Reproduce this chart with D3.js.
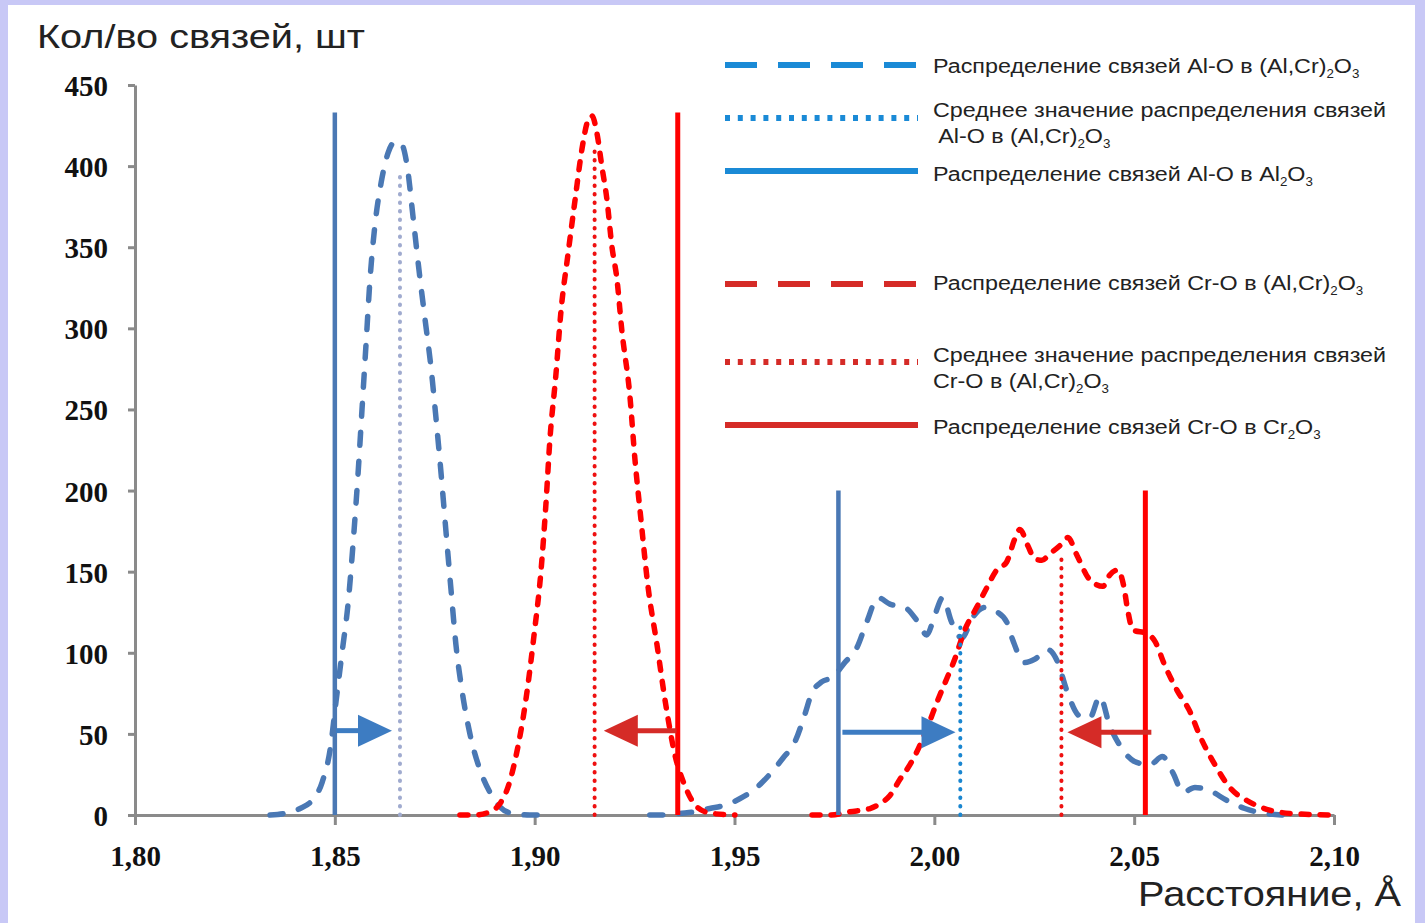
<!DOCTYPE html>
<html>
<head>
  <meta charset="UTF-8">
  <style>
    body { margin: 0; background: #c8c8f6; }
    svg { display: block; }
    .tick text { font-family: "Liberation Serif", "Times New Roman", serif; font-weight: bold; font-size: 29px; fill: #111; }
    .lbl { font-family: "Liberation Sans", Arial, sans-serif; fill: #222; }
  </style>
</head>
<body>
<svg></svg>
<script src="https://d3js.org/d3.v7.min.js"></script>
<script>
// --- data ---
// Al-O bond distribution in (Al,Cr)2O3: [distance, count], null = gap
let alOMixed = [
  [1.8338, 0], [1.8375, 1], [1.8413, 4], [1.8443, 9], [1.8468, 20], [1.8488, 40], [1.8503, 70],
  [1.8518, 100], [1.8533, 130], [1.8548, 175], [1.8558, 210], [1.8568, 250], [1.8578, 290],
  [1.8588, 330], [1.8601, 365], [1.8616, 390], [1.8633, 408], [1.8651, 415], [1.8666, 414],
  [1.8681, 400], [1.8696, 368], [1.8711, 335], [1.8726, 305], [1.8741, 275], [1.8753, 245],
  [1.8766, 210], [1.8778, 175], [1.8791, 138], [1.8803, 105], [1.8818, 77], [1.8838, 50],
  [1.8863, 28], [1.8888, 14], [1.8913, 5], [1.8943, 1], [1.8988, 0], [1.9026, 0],
  [1.9150, null],
  [1.9288, 0], [1.9326, 0], [1.9363, 1], [1.9401, 2], [1.9438, 4], [1.9476, 6], [1.9513, 10],
  [1.9551, 16], [1.9588, 25], [1.9621, 35], [1.9651, 45], [1.9676, 62], [1.9693, 75],
  [1.9718, 82], [1.9746, 85], [1.9776, 94], [1.9806, 103], [1.9831, 119], [1.9859, 134],
  [1.9889, 130], [1.9926, 128], [1.9959, 119], [1.9981, 111], [2.0001, 123], [2.0021, 134],
  [2.0043, 119], [2.0069, 109], [2.0094, 121], [2.0126, 128], [2.0151, 126], [2.0181, 119],
  [2.0196, 108], [2.0226, 94], [2.0251, 96], [2.0284, 102], [2.0309, 94], [2.0331, 77],
  [2.0364, 61], [2.0389, 60], [2.0414, 73], [2.0439, 55], [2.0464, 43], [2.0501, 33],
  [2.0539, 31], [2.0571, 36], [2.0597, 26], [2.0622, 14], [2.0652, 17], [2.0689, 15],
  [2.0732, 9], [2.0777, 4], [2.0827, 1], [2.0877, 0]
];

// Cr-O bond distribution in (Al,Cr)2O3
let crOMixed = [
  [1.8813, 0], [1.8851, 0], [1.8888, 2], [1.8913, 7], [1.8933, 17], [1.8953, 36], [1.8978, 71],
  [1.8998, 110], [1.9016, 151], [1.9028, 191], [1.9038, 231], [1.9053, 271], [1.9066, 311],
  [1.9083, 345], [1.9101, 379], [1.9118, 410], [1.9133, 428], [1.9143, 431], [1.9156, 420],
  [1.9168, 400], [1.9181, 379], [1.9193, 351], [1.9206, 330], [1.9218, 299], [1.9238, 259],
  [1.9251, 219], [1.9266, 182], [1.9283, 142], [1.9306, 105], [1.9328, 68], [1.9351, 37],
  [1.9376, 18], [1.9406, 5], [1.9443, 1], [1.9501, 0],
  [1.9600, null],
  [1.9694, 0], [1.9739, 0], [1.9789, 2], [1.9839, 4], [1.9864, 7], [1.9889, 12], [1.9914, 22],
  [1.9939, 31], [1.9964, 43], [1.9984, 55], [2.0009, 71], [2.0031, 84], [2.0051, 96],
  [2.0076, 114], [2.0106, 128], [2.0131, 140], [2.0156, 151], [2.0181, 156], [2.0201, 170],
  [2.0214, 176], [2.0234, 166], [2.0251, 158], [2.0269, 157], [2.0289, 161], [2.0314, 166],
  [2.0334, 171], [2.0357, 160], [2.0389, 145], [2.0422, 141], [2.0439, 148], [2.0459, 151],
  [2.0474, 141], [2.0484, 126], [2.0497, 114], [2.0532, 112], [2.0552, 107], [2.0577, 92],
  [2.0607, 77], [2.0639, 64], [2.0664, 49], [2.0702, 31], [2.0739, 17], [2.0789, 8],
  [2.0839, 3], [2.0889, 1], [2.0997, 0]
];

// vertical marker lines: [distance, height]
let alOPure = [[1.8500, 433], [1.9760, 200]];      // Al-O in Al2O3
let alOMean = [[1.8663, 398], [2.0065, 118]];      // mean Al-O in (Al,Cr)2O3
let crOMean = [[1.9150, 410], [2.0318, 160]];      // mean Cr-O in (Al,Cr)2O3
let crOPure = [[1.9358, 433], [2.0528, 200]];      // Cr-O in Cr2O3

// shift arrows: [from, to, level]
let arrowsAl = [[1.8503, 1.8643, 52], [1.9770, 2.0053, 51]];
let arrowsCr = [[1.9355, 1.9173, 52], [2.0543, 2.0333, 51]];

let xTicks = [1.80, 1.85, 1.90, 1.95, 2.00, 2.05, 2.10];
let yTicks = [0, 50, 100, 150, 200, 250, 300, 350, 400, 450];

let legendLabels = [
  ["Распределение связей Al-O в (Al,Cr)_2O_3"],
  ["Среднее значение распределения связей", " Al-O в (Al,Cr)_2O_3"],
  ["Распределение связей Al-O в Al_2O_3"],
  ["Распределение связей Cr-O в (Al,Cr)_2O_3"],
  ["Среднее значение распределения связей", "Cr-O в (Al,Cr)_2O_3"],
  ["Распределение связей Cr-O в Cr_2O_3"]
];

// --- drawing ---
let width = 1425, height = 923;
let svg = d3.select("svg").attr("width", width).attr("height", height);

svg.append("rect").attr("x", 8).attr("y", 5).attr("width", 1407).attr("height", 918).attr("fill", "white");

let x = d3.scaleLinear().domain([1.80, 2.10]).range([135, 1334]);
let y = d3.scaleLinear().domain([0, 450]).range([815, 85]);

let axisColor = "#8a8a8a";

let gy = svg.append("g").attr("transform", "translate(135,0)")
  .call(d3.axisLeft(y).tickValues(yTicks).tickSize(7).tickSizeOuter(0).tickPadding(20).tickFormat(d => d));
let gx = svg.append("g").attr("transform", "translate(0,815)")
  .call(d3.axisBottom(x).tickValues(xTicks).tickSize(10).tickSizeOuter(0).tickPadding(20)
    .tickFormat(d => d.toFixed(2).replace(".", ",")));
[gx, gy].forEach(g => {
  g.select(".domain").attr("stroke", axisColor).attr("stroke-width", 3);
  g.selectAll(".tick line").attr("stroke", axisColor).attr("stroke-width", 3);
});
gy.selectAll(".tick text").attr("dy", "0.36em");

// axis titles
svg.append("text").attr("class", "lbl").attr("x", 37).attr("y", 48)
  .attr("textLength", 328).attr("lengthAdjust", "spacingAndGlyphs")
  .style("font-size", "34px").text("Кол/во связей, шт");
svg.append("text").attr("class", "lbl").attr("x", 1138).attr("y", 906)
  .attr("textLength", 263).attr("lengthAdjust", "spacingAndGlyphs")
  .style("font-size", "35px").text("Расстояние, Å");

let line = d3.line()
  .defined(d => d[1] !== null)
  .x(d => x(d[0]))
  .y(d => y(d[1]))
  .curve(d3.curveMonotoneX);

let blueCurve = "#4a78b4";
let redCurve = "#ff0000";

svg.append("path").datum(alOMixed).attr("d", line)
  .attr("fill", "none").attr("stroke", blueCurve).attr("stroke-width", 5.5)
  .attr("stroke-linecap", "round").attr("stroke-dasharray", "13,16");

svg.append("path").datum(crOMixed).attr("d", line)
  .attr("fill", "none").attr("stroke", redCurve).attr("stroke-width", 5.5)
  .attr("stroke-linecap", "round").attr("stroke-dasharray", "8,11");

// vertical lines
function vlines(data, color, w, dash, colors) {
  svg.append("g").selectAll("line").data(data).enter().append("line")
    .attr("x1", d => x(d[0])).attr("x2", d => x(d[0]))
    .attr("y1", y(0)).attr("y2", d => y(d[1]))
    .attr("stroke", (d, i) => colors ? colors[i] : color)
    .attr("stroke-width", w)
    .attr("stroke-linecap", dash ? "round" : "butt")
    .attr("stroke-dasharray", dash);
}
vlines(alOMean, null, 4, "0.5,8", ["#a0abcf", "#1a86d0"]);
vlines(crOMean, "#ee1111", 4, "0.5,8");
vlines(alOPure, "#4a78b4", 4.5, null);
vlines(crOPure, "#ff0000", 5, null);

// arrows
function arrows(data, color) {
  let g = svg.append("g");
  data.forEach(a => {
    let x0 = x(a[0]), x1 = x(a[1]), yy = y(a[2]);
    let dir = x1 > x0 ? 1 : -1;
    let hl = 34, hw = 16;
    g.append("line").attr("x1", x0).attr("x2", x1 - dir * hl + dir * 2)
      .attr("y1", yy).attr("y2", yy).attr("stroke", color).attr("stroke-width", 5);
    g.append("path")
      .attr("d", "M" + x1 + "," + yy + "L" + (x1 - dir * hl) + "," + (yy - hw) + "L" + (x1 - dir * hl) + "," + (yy + hw) + "Z")
      .attr("fill", color);
  });
}
arrows(arrowsAl, "#3d7cc2");
arrows(arrowsCr, "#d52b27");

// legend
let legendBlue = "#1a8ad6", legendRed = "#d52b27";
let legendStyle = [
  { c: legendBlue, dash: "32,21", y: 65, ty: [73] },
  { c: legendBlue, dash: "5,7.8", y: 118, ty: [117, 143] },
  { c: legendBlue, dash: null, y: 171, ty: [181] },
  { c: legendRed, dash: "32,21", y: 284, ty: [290] },
  { c: legendRed, dash: "5,7.8", y: 362, ty: [362, 388] },
  { c: legendRed, dash: null, y: 425, ty: [434] }
];

function addLabel(sel, str) {
  let parts = str.split(/_(\d)/);
  let shift = 0;
  parts.forEach((p, i) => {
    if (!p.length) return;
    if (i % 2 === 0) {
      sel.append("tspan").attr("dy", -shift).text(p);
      shift = 0;
    } else {
      sel.append("tspan").attr("dy", 5).style("font-size", "12px").text(p);
      shift = 5;
    }
  });
}

let legendText = svg.append("g").attr("transform", "translate(933,0) scale(1.11,1)");

legendLabels.forEach((lines, i) => {
  let s = legendStyle[i];
  svg.append("line").attr("x1", 725).attr("x2", 918).attr("y1", s.y).attr("y2", s.y)
    .attr("stroke", s.c).attr("stroke-width", 6).attr("stroke-dasharray", s.dash);
  lines.forEach((t, j) => {
    let tx = legendText.append("text").attr("class", "lbl")
      .attr("x", 0).attr("y", s.ty[j]).style("font-size", "21px")
      .attr("xml:space", "preserve").style("white-space", "pre");
    addLabel(tx, t);
  });
});
</script>
</body>
</html>
